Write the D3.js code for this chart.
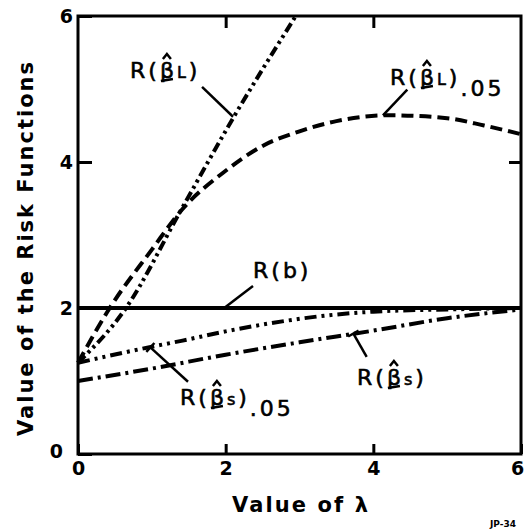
<!DOCTYPE html>
<meta charset="utf-8">
<style>
body { margin: 0; background: #fff; }
svg { display: block; background: #fff; }
.curve { fill: none; stroke: #000; stroke-width: 4; }
.frame { fill: none; stroke: #000; stroke-width: 3; }
.tick line { stroke: #000; stroke-width: 3; }
.tick text { font-family: "DejaVu Sans", sans-serif; font-weight: bold; font-size: 19px; fill: #000; }
.lbl { font-family: "DejaVu Sans", sans-serif; font-size: 22px; letter-spacing: 3px; fill: #000; stroke: #000; stroke-width: 0.6px; }
.title { font-family: "DejaVu Sans", sans-serif; font-weight: bold; font-size: 21px; fill: #000; }
.pointer { stroke: #000; stroke-width: 2.5; fill: none; }
</style>
<body>
<script src="https://d3js.org/d3.v7.min.js"></script>
<script>
// values
var xTicks = [0, 2, 4, 6],
    yTicks = [0, 2, 4, 6];

var lamB = [0, 6],
    riskB = [2, 2];

var lamL = [0, 0.65, 1.4, 2.1, 2.95],
    riskL = [1.25, 2.0, 3.35, 4.6, 6.0];

var lamL05 = [0, 0.43, 1.0, 1.41, 2.0, 2.5, 3.0, 3.5, 4.2, 5.0, 5.5, 6.0],
    riskL05 = [1.25, 2.0, 2.8, 3.35, 3.88, 4.22, 4.42, 4.56, 4.64, 4.6, 4.5, 4.38];

var lamS05 = [0, 1, 1.4, 2, 2.6, 3.3, 4, 5, 6],
    riskS05 = [1.25, 1.47, 1.55, 1.68, 1.79, 1.89, 1.95, 1.98, 2.0];

var lamS = [0, 1, 2, 3, 4, 5, 6],
    riskS = [1.0, 1.17, 1.36, 1.53, 1.69, 1.86, 1.98];

var width = 527,
    height = 532;

var x = d3.scaleLinear().domain([0, 6]).range([78, 521]);
var y = d3.scaleLinear().domain([0, 6]).range([454, 16]);

var svg = d3.select("body").append("svg")
    .attr("width", width)
    .attr("height", height);

var line = d3.line()
    .x(function(d) { return x(d[0]); })
    .y(function(d) { return y(d[1]); })
    .curve(d3.curveMonotoneX);

function pairs(a, b) { return a.map(function(v, i) { return [v, b[i]]; }); }

var series = [
  { xs: lamB,   ys: riskB,   dash: null },
  { xs: lamL,   ys: riskL,   dash: "10,4,3,4,3,4" },
  { xs: lamL05, ys: riskL05, dash: "12,6" },
  { xs: lamS05, ys: riskS05, dash: "12,5,3,5,3,5" },
  { xs: lamS,   ys: riskS,   dash: "15,5,3,5" }
];

svg.selectAll("path.curve")
    .data(series)
  .enter().append("path")
    .attr("class", "curve")
    .attr("d", function(d) { return line(pairs(d.xs, d.ys)); })
    .attr("stroke-dasharray", function(d) { return d.dash; });

// frame
svg.append("rect")
    .attr("class", "frame")
    .attr("x", x(0)).attr("y", y(6))
    .attr("width", x(6) - x(0)).attr("height", y(0) - y(6));

// axes, ticks pointing inward
var fmt = d3.format("d");
var gx = svg.append("g").attr("transform", "translate(0," + y(0) + ")")
    .call(d3.axisBottom(x).tickValues(xTicks).tickFormat(fmt).tickSizeInner(-10).tickSizeOuter(0).tickPadding(8));
var gy = svg.append("g").attr("transform", "translate(" + x(0) + ",0)")
    .call(d3.axisLeft(y).tickValues(yTicks).tickFormat(fmt).tickSizeInner(-14).tickSizeOuter(0).tickPadding(5));
var gt = svg.append("g").attr("transform", "translate(0," + y(6) + ")")
    .call(d3.axisTop(x).tickValues([2, 4]).tickSizeInner(-12).tickSizeOuter(0).tickFormat(""));
var gr = svg.append("g").attr("transform", "translate(" + x(6) + ",0)")
    .call(d3.axisRight(y).tickValues([2, 4]).tickSizeInner(-12).tickSizeOuter(0).tickFormat(""));
[gx, gy, gt, gr].forEach(function(g) {
  g.attr("font-family", null).attr("font-size", null);
  g.select(".domain").remove();
});
// the y "0" sits lower-left in the original, the x "6" is pulled in from the edge
gy.selectAll(".tick text").filter(function(d) { return d === 0; })
    .attr("dx", "-10").attr("dy", "0.2em");
gx.selectAll(".tick text").filter(function(d) { return d === 6; })
    .attr("dx", "-4");

// axis titles
svg.append("text").attr("class", "title")
    .attr("x", 232).attr("y", 512)
    .attr("textLength", 136).attr("lengthAdjust", "spacing")
    .text("Value of λ");
svg.append("text").attr("class", "title")
    .attr("transform", "translate(33,436) rotate(-90)")
    .attr("textLength", 374).attr("lengthAdjust", "spacing")
    .text("Value of the Risk Functions");

// curve labels
function riskLabel(px, py, sub, pct) {
  var t = svg.append("text").attr("class", "lbl").attr("x", px).attr("y", py);
  t.append("tspan").text("R(");
  if (sub !== null) {
    t.append("tspan").text("β");
    t.append("tspan").attr("font-size", "16px").text(sub);
  } else {
    t.append("tspan").text("b");
  }
  t.append("tspan").text(")");
  if (pct) t.append("tspan").attr("dy", 11).text(".05");
  if (sub !== null) {
    var e = t.node().getExtentOfChar(2),
        cx = e.x + (e.width - 3) / 2;
    svg.append("path").attr("class", "pointer").attr("stroke-width", 2)
        .attr("d", "M" + (cx - 4) + "," + (py - 19) + "L" + cx + "," + (py - 24) + "L" + (cx + 4) + "," + (py - 19));
    svg.append("path").attr("class", "pointer").attr("stroke-width", 2.5)
        .attr("d", "M" + (e.x + 1) + "," + (py + 3) + "L" + (e.x + e.width - 4) + "," + (py + 1));
  }
}
riskLabel(130, 78, "L", false);
riskLabel(390, 85, "L", true);
riskLabel(253, 278, null, false);
riskLabel(180, 405, "s", true);
riskLabel(357, 385, "s", false);

// leader lines: [from, to] in data units
var pointers = [
  [[1.68, 5.03], [2.10, 4.62], false],
  [[4.46, 4.99], [4.13, 4.64], false],
  [[2.37, 2.30], [1.98, 2.0], false],
  [[1.49, 0.99], [0.98, 1.46], true],
  [[3.91, 1.33], [3.73, 1.65], true]
];
pointers.forEach(function(p) {
  var x1 = x(p[0][0]), y1 = y(p[0][1]), x2 = x(p[1][0]), y2 = y(p[1][1]);
  svg.append("line").attr("class", "pointer")
      .attr("x1", x1).attr("y1", y1).attr("x2", x2).attr("y2", y2);
  if (p[2]) {
    var dx = x2 - x1, dy = y2 - y1, len = Math.sqrt(dx * dx + dy * dy),
        nx = -dy / len * 6, ny = dx / len * 6;
    svg.append("line").attr("class", "pointer")
        .attr("x1", x2 - nx).attr("y1", y2 - ny).attr("x2", x2 + nx).attr("y2", y2 + ny);
  }
});

svg.append("text")
    .attr("x", 490).attr("y", 527)
    .attr("font-family", "DejaVu Sans").attr("font-weight", "bold").attr("font-size", "9px")
    .text("JP-34");
</script>
